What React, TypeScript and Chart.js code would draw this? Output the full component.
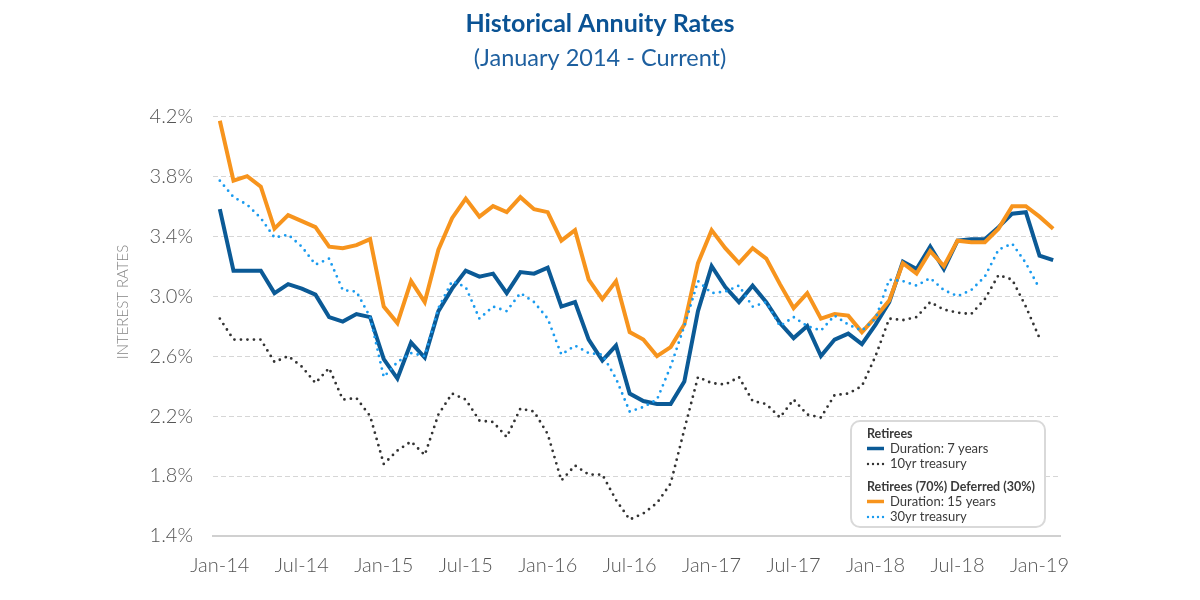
import React, { useEffect, useRef } from "react";
import { Chart, registerables } from "chart.js";

Chart.register(...registerables);

const months = [
  "Jan-14", "Feb-14", "Mar-14", "Apr-14", "May-14", "Jun-14", "Jul-14", "Aug-14", "Sep-14", "Oct-14", "Nov-14", "Dec-14",
  "Jan-15", "Feb-15", "Mar-15", "Apr-15", "May-15", "Jun-15", "Jul-15", "Aug-15", "Sep-15", "Oct-15", "Nov-15", "Dec-15",
  "Jan-16", "Feb-16", "Mar-16", "Apr-16", "May-16", "Jun-16", "Jul-16", "Aug-16", "Sep-16", "Oct-16", "Nov-16", "Dec-16",
  "Jan-17", "Feb-17", "Mar-17", "Apr-17", "May-17", "Jun-17", "Jul-17", "Aug-17", "Sep-17", "Oct-17", "Nov-17", "Dec-17",
  "Jan-18", "Feb-18", "Mar-18", "Apr-18", "May-18", "Jun-18", "Jul-18", "Aug-18", "Sep-18", "Oct-18", "Nov-18", "Dec-18",
  "Jan-19", "Feb-19",
];

const duration7 = [
  3.58, 3.17, 3.17, 3.17, 3.02, 3.08, 3.05, 3.01, 2.86, 2.83,
  2.88, 2.86, 2.58, 2.45, 2.69, 2.59, 2.90, 3.05, 3.17, 3.13,
  3.15, 3.02, 3.16, 3.15, 3.19, 2.93, 2.96, 2.71, 2.57, 2.67,
  2.35, 2.30, 2.28, 2.28, 2.43, 2.90, 3.20, 3.06, 2.96, 3.07,
  2.96, 2.82, 2.72, 2.80, 2.60, 2.71, 2.75, 2.68, 2.81, 2.96,
  3.23, 3.18, 3.33, 3.18, 3.37, 3.38, 3.38, 3.46, 3.55, 3.56,
  3.27, 3.24,
];

const treasury10 = [
  2.85, 2.71, 2.71, 2.71, 2.56, 2.60, 2.53, 2.42, 2.52, 2.31,
  2.32, 2.20, 1.88, 1.97, 2.03, 1.94, 2.21, 2.35, 2.31, 2.17,
  2.16, 2.06, 2.25, 2.23, 2.08, 1.77, 1.87, 1.81, 1.81, 1.64,
  1.51, 1.55, 1.62, 1.75, 2.11, 2.46, 2.42, 2.41, 2.46, 2.30,
  2.28, 2.19, 2.31, 2.21, 2.19, 2.34, 2.35, 2.40, 2.60, 2.85,
  2.84, 2.86, 2.96, 2.91, 2.89, 2.88, 2.98, 3.14, 3.11, 2.93,
  2.72, null,
];

const duration15 = [
  4.17, 3.77, 3.80, 3.73, 3.45, 3.54, 3.50, 3.46, 3.33, 3.32,
  3.34, 3.38, 2.93, 2.82, 3.10, 2.96, 3.31, 3.52, 3.65, 3.53,
  3.60, 3.56, 3.66, 3.58, 3.56, 3.37, 3.44, 3.11, 2.98, 3.10,
  2.76, 2.71, 2.60, 2.66, 2.81, 3.22, 3.44, 3.32, 3.22, 3.32,
  3.25, 3.08, 2.92, 3.02, 2.85, 2.88, 2.87, 2.76, 2.86, 2.97,
  3.22, 3.15, 3.30, 3.20, 3.37, 3.36, 3.36, 3.45, 3.60, 3.60,
  3.53, 3.45,
];

const treasury30 = [
  3.77, 3.66, 3.61, 3.52, 3.39, 3.41, 3.33, 3.21, 3.25, 3.04,
  3.03, 2.86, 2.46, 2.56, 2.62, 2.60, 2.92, 3.10, 3.06, 2.85,
  2.93, 2.90, 3.02, 2.96, 2.85, 2.61, 2.67, 2.62, 2.61, 2.45,
  2.23, 2.26, 2.31, 2.53, 2.80, 3.10, 3.02, 3.03, 3.07, 2.93,
  2.96, 2.80, 2.86, 2.80, 2.77, 2.87, 2.81, 2.77, 2.85, 3.11,
  3.10, 3.07, 3.12, 3.04, 3.00, 3.04, 3.13, 3.31, 3.35, 3.22,
  3.05, null,
];

const seriesLabels = ["Duration: 7 years", "10yr treasury", "Duration: 15 years", "30yr treasury"];
const legendGroupTitles = ["Retirees", "Retirees (70%) Deferred (30%)"];
const legendGroupMembers = [[0, 1], [2, 3]];
const yTicks = { min: 1.4, max: 4.2, step: 0.4 };

const FONT = "Lato, 'Noto Sans', sans-serif";

const yTitlePlugin = {
  id: "yTitle",
  afterDraw(chart: any) {
    const ctx = chart.ctx;
    ctx.save();
    ctx.translate(123, 302);
    ctx.rotate(-Math.PI / 2);
    ctx.font = `300 15px ${FONT}`;
    ctx.fillStyle = "#858585";
    ctx.textAlign = "center";
    ctx.textBaseline = "middle";
    ctx.fillText("INTEREST RATES", 0, 0);
    ctx.restore();
  },
};

const groupLegendPlugin = {
  id: "groupLegend",
  afterDraw(chart: any) {
    const ctx = chart.ctx;
    const bx = 851, by = 421, bw = 194, bh = 106;
    ctx.save();
    ctx.beginPath();
    ctx.roundRect(bx, by, bw, bh, 9);
    ctx.fillStyle = "#ffffff";
    ctx.fill();
    ctx.lineWidth = 2;
    ctx.strokeStyle = "#d9d9d9";
    ctx.stroke();
    let y = 434;
    legendGroupTitles.forEach((title, g) => {
      ctx.font = `bold 12.5px ${FONT}`;
      ctx.fillStyle = "#3a3a3a";
      ctx.textAlign = "left";
      ctx.textBaseline = "middle";
      ctx.fillText(title, 867, y);
      y += 14.5;
      legendGroupMembers[g].forEach((di) => {
        const ds = chart.data.datasets[di];
        ctx.save();
        ctx.beginPath();
        ctx.strokeStyle = ds.borderColor;
        if (ds.borderDash) {
          ctx.setLineDash([0, 5]);
          ctx.lineCap = "round";
          ctx.lineWidth = 2.4;
          ctx.moveTo(868, y);
          ctx.lineTo(885, y);
        } else {
          ctx.lineWidth = 3.5;
          ctx.lineCap = "butt";
          ctx.moveTo(867, y);
          ctx.lineTo(884, y);
        }
        ctx.stroke();
        ctx.restore();
        ctx.font = `13px ${FONT}`;
        ctx.fillStyle = "#3a3a3a";
        ctx.fillText(ds.label, 890, y);
        y += 15.5;
      });
      y += 7.5;
    });
    ctx.restore();
  },
};

export default function App() {
  const ref = useRef<HTMLCanvasElement | null>(null);

  useEffect(() => {
    if (!ref.current) return;
    const chart = new Chart(ref.current, {
      type: "line",
      data: {
        labels: months,
        datasets: [
          {
            label: seriesLabels[0],
            data: duration7,
            borderColor: "#0b5a96",
            borderWidth: 4,
            pointRadius: 0,
            tension: 0,
            order: 2,
          },
          {
            label: seriesLabels[1],
            data: treasury10,
            borderColor: "#333333",
            borderWidth: 2.8,
            borderDash: [0, 6.5],
            borderCapStyle: "round",
            pointRadius: 0,
            tension: 0,
            order: 0,
          },
          {
            label: seriesLabels[2],
            data: duration15,
            borderColor: "#f7941d",
            borderWidth: 4,
            pointRadius: 0,
            tension: 0,
            order: 1,
          },
          {
            label: seriesLabels[3],
            data: treasury30,
            borderColor: "#1a9bef",
            borderWidth: 2.8,
            borderDash: [0, 6.5],
            borderCapStyle: "round",
            pointRadius: 0,
            tension: 0,
            order: 0,
          },
        ] as any,
      },
      options: {
        responsive: false,
        animation: false,
        spanGaps: false,
        layout: { padding: { left: 0, right: 0, top: 0, bottom: 0 } },
        plugins: {
          legend: { display: false },
          tooltip: { enabled: false },
          title: {
            display: true,
            text: "Historical Annuity Rates",
            color: "#0b5394",
            font: { family: FONT, size: 25, weight: "bold" },
            padding: { top: 9, bottom: 0 },
          },
          subtitle: {
            display: true,
            text: "(January 2014 - Current)",
            color: "#1d5f9f",
            font: { family: FONT, size: 23.5, weight: "normal" },
            padding: { top: 5, bottom: 44 },
          },
        },
        scales: {
          x: {
            type: "category",
            offset: true,
            grid: { display: false },
            border: { display: true, color: "#d0d0d0", width: 2 },
            ticks: {
              autoSkip: false,
              maxRotation: 0,
              color: "#555555",
              font: { family: FONT, size: 20, weight: "300" },
              padding: 10,
              callback: (_v: any, i: number) => (i % 6 === 0 ? months[i] : null),
            },
            afterFit: (s: any) => {
              s.height = 64;
            },
          },
          y: {
            min: yTicks.min,
            max: yTicks.max,
            grid: { color: "#d6d6d6", lineWidth: 1, drawTicks: false },
            border: { display: false, dash: [5, 3] },
            ticks: {
              stepSize: yTicks.step,
              color: "#555555",
              font: { family: FONT, size: 20, weight: "300" },
              padding: 20,
              callback: (v: any) => Number(v).toFixed(1) + "%",
            },
            afterFit: (s: any) => {
              s.width = 213;
            },
          },
          yRight: {
            position: "right",
            display: true,
            min: yTicks.min,
            max: yTicks.max,
            grid: { display: false, drawTicks: false },
            border: { display: false },
            ticks: { display: false },
            afterFit: (s: any) => {
              s.width = 140;
            },
          },
        },
      } as any,
      plugins: [yTitlePlugin, groupLegendPlugin],
    });
    return () => chart.destroy();
  }, []);

  return (
    <div style={{ position: "absolute", left: 0, top: 0, width: 1200, height: 600, background: "#fff" }}>
      <canvas ref={ref} width={1200} height={600} style={{ display: "block" }} />
    </div>
  );
}
